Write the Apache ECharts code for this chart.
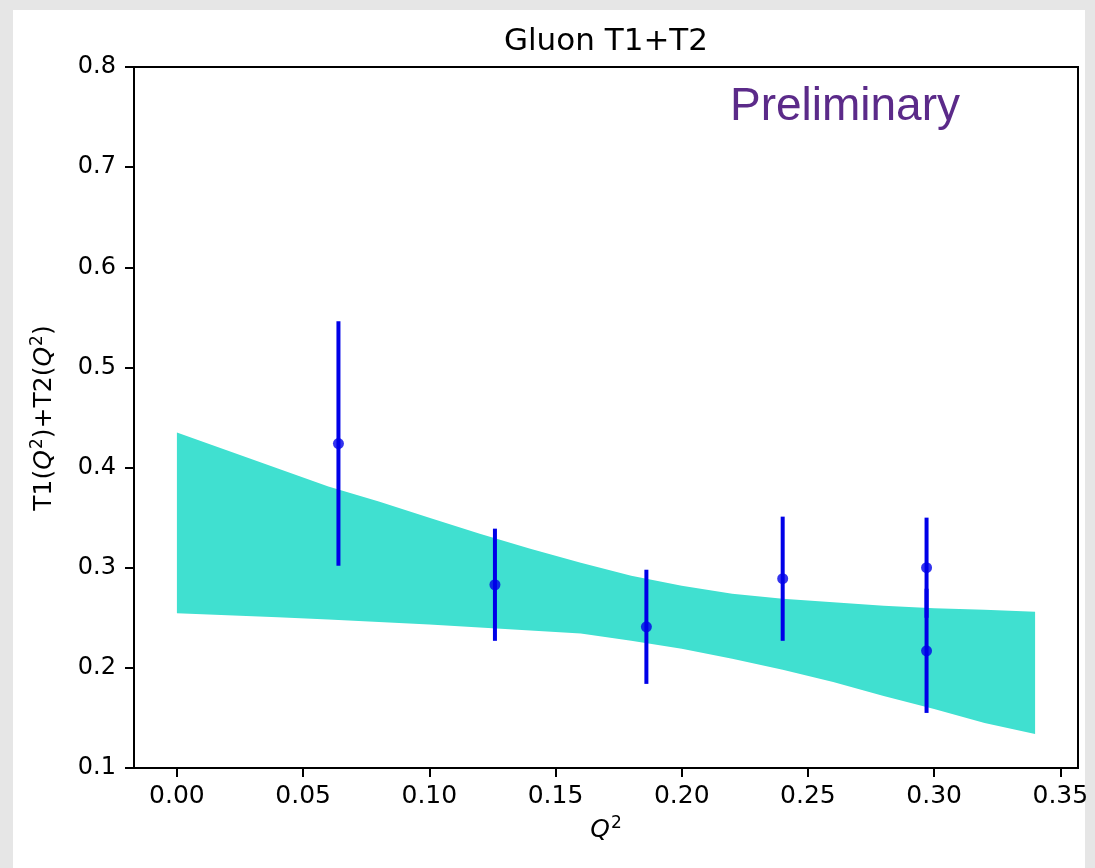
<!DOCTYPE html>
<html>
<head>
<meta charset="utf-8">
<script src="https://cdn.jsdelivr.net/npm/echarts@6/dist/echarts.min.js"></script>
<style>
  html, body { margin: 0; padding: 0; background: #e6e6e6; }
  #chart { width: 1095px; height: 868px; }
</style>
</head>
<body>
<div id="chart"></div>
<script>
// Fit band (lower / upper envelope) sampled along Q^2
const bandQ2    = [0, 0.02, 0.04, 0.06, 0.08, 0.10, 0.12, 0.14, 0.16, 0.18, 0.20, 0.22, 0.24, 0.26, 0.28, 0.30, 0.32, 0.34];
const bandUpper = [0.435, 0.417, 0.399, 0.381, 0.366, 0.350, 0.334, 0.319, 0.305, 0.292, 0.282, 0.274, 0.269, 0.2655, 0.262, 0.2595, 0.258, 0.256];
const bandLower = [0.2545, 0.2525, 0.2505, 0.2482, 0.2458, 0.2432, 0.2403, 0.2373, 0.2342, 0.227, 0.219, 0.209, 0.198, 0.186, 0.172, 0.159, 0.145, 0.134];

// Lattice data points with symmetric errors
const pointQ2    = [0.064, 0.126, 0.186, 0.240, 0.297, 0.297];
const pointValue = [0.424, 0.283, 0.241, 0.289, 0.300, 0.217];
const pointError = [0.122, 0.056, 0.057, 0.062, 0.050, 0.062];

// Axis ticks
const xTicks = [0, 0.05, 0.10, 0.15, 0.20, 0.25, 0.30, 0.35];

const FONT = 'DejaVu Sans';
const BLUE = '#0000e8';
const BAND = '#40e0d0';

const chart = echarts.init(document.getElementById('chart'), null, { renderer: 'canvas' });

const bandData = bandQ2.map((q, i) => [q, bandLower[i], bandUpper[i]]);
const errData = pointQ2.map((q, i) => [q, pointValue[i] - pointError[i], pointValue[i] + pointError[i]]);
const ptData = pointQ2.map((q, i) => [q, pointValue[i]]);

// Math-style label pieces: italic Q with a small raised 2
const mathRich = {
  q: { fontStyle: 'italic', fontFamily: FONT, fontSize: 25, fill: '#000' },
  s: { fontFamily: FONT, fontSize: 17, fill: '#000', padding: [0, 0, 13, 1] }
};

const option = {
  backgroundColor: 'transparent',
  animation: false,
  grid: {
    left: 134, top: 67, right: 17, bottom: 100,
    show: true, borderColor: '#000', borderWidth: 2, backgroundColor: '#fff'
  },
  xAxis: {
    type: 'value', min: -0.017, max: 0.357,
    splitLine: { show: false },
    axisLine: { show: true, onZero: false, lineStyle: { color: '#000', width: 2 } },
    axisTick: { show: true, inside: false, length: 9, customValues: xTicks, lineStyle: { color: '#000', width: 2 } },
    axisLabel: {
      customValues: xTicks, margin: 16, color: '#000', fontFamily: FONT, fontSize: 25,
      formatter: v => v.toFixed(2)
    }
  },
  yAxis: {
    type: 'value', min: 0.1, max: 0.8, interval: 0.1,
    splitLine: { show: false },
    axisLine: { show: true, onZero: false, lineStyle: { color: '#000', width: 2 } },
    axisTick: { show: true, inside: false, length: 9, lineStyle: { color: '#000', width: 2 } },
    axisLabel: {
      margin: 18, color: '#000', fontFamily: FONT, fontSize: 24,
      formatter: v => v.toFixed(1)
    }
  },
  graphic: [
    { type: 'rect', z: -10, silent: true, shape: { x: 13, y: 10, width: 1072, height: 858 }, style: { fill: '#fff' } },
    { type: 'text', x: 606, y: 42, style: { text: 'Gluon T1+T2', font: '31px "DejaVu Sans"', fill: '#000', align: 'center', verticalAlign: 'middle' } },
    { type: 'text', x: 845, y: 107, style: { text: 'Preliminary', font: '46px "Liberation Sans"', fill: '#5b2a89', align: 'center', verticalAlign: 'middle' } },
    {
      type: 'text', x: 44, y: 418, rotation: Math.PI / 2,
      style: {
        text: 'T1({q|Q}{s|2})+T2({q|Q}{s|2})', font: '25px "DejaVu Sans"', fill: '#000', align: 'center', verticalAlign: 'middle',
        rich: mathRich
      }
    },
    {
      type: 'text', x: 606, y: 830,
      style: {
        text: '{q|Q}{s|2}', font: '25px "DejaVu Sans"', fill: '#000', align: 'center', verticalAlign: 'middle',
        rich: mathRich
      }
    }
  ],
  series: [
    {
      type: 'custom', name: 'band', z: 1, clip: true,
      data: bandData,
      encode: { x: 0, y: [1, 2] },
      renderItem: (params, api) => {
        if (params.dataIndex !== 0) return null;
        const top = bandData.map(d => api.coord([d[0], d[2]]));
        const bottom = bandData.slice().reverse().map(d => api.coord([d[0], d[1]]));
        return { type: 'polygon', shape: { points: top.concat(bottom), smooth: 0 }, style: { fill: BAND } };
      }
    },
    {
      type: 'custom', name: 'errors', z: 3,
      data: errData,
      encode: { x: 0, y: [1, 2] },
      renderItem: (params, api) => {
        const lo = api.coord([api.value(0), api.value(1)]);
        const hi = api.coord([api.value(0), api.value(2)]);
        return { type: 'line', shape: { x1: lo[0], y1: lo[1], x2: hi[0], y2: hi[1] }, style: { stroke: BLUE, lineWidth: 4 } };
      }
    },
    {
      type: 'scatter', name: 'points', z: 4,
      data: ptData, symbol: 'circle', symbolSize: 11,
      itemStyle: { color: BLUE }
    }
  ]
};

chart.setOption(option);
</script>
</body>
</html>
